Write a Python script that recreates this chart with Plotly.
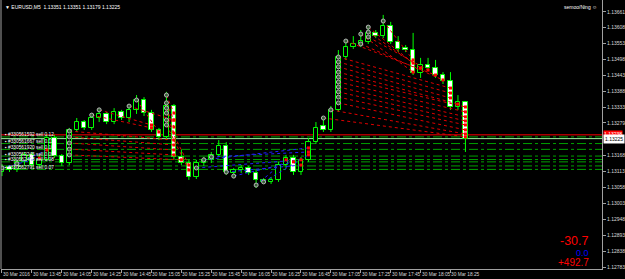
import plotly.graph_objects as go

# ---------------- data (EURUSD M5, 30 Mar 2016) ----------------
bar_index = list(range(63))
opens = [1.13110, 1.13127, 1.13117, 1.13145, 1.13169, 1.13134, 1.13152, 1.13227, 1.13165, 1.13141,
         1.13255, 1.13282, 1.13262, 1.13296, 1.13310, 1.13282, 1.13317, 1.13296, 1.13324, 1.13358,
         1.13313, 1.13255, 1.13231, 1.13337, 1.13162, 1.13141, 1.13093, 1.13141, 1.13152, 1.13169,
         1.13200, 1.13107, 1.13117, 1.13124, 1.13107, 1.13083, 1.13076, 1.13083, 1.13134, 1.13158,
         1.13110, 1.13152, 1.13213, 1.13268, 1.13255, 1.13324, 1.13506, 1.13540, 1.13551, 1.13558,
         1.13589, 1.13578, 1.13613, 1.13558, 1.13537, 1.13530, 1.13451, 1.13479, 1.13468, 1.13444,
         1.13423, 1.13334, 1.13351]
highs = [1.13138, 1.13134, 1.13152, 1.13179, 1.13179, 1.13169, 1.13238, 1.13238, 1.13172, 1.13262,
         1.13296, 1.13289, 1.13306, 1.13324, 1.13317, 1.13330, 1.13324, 1.13337, 1.13375, 1.13368,
         1.13324, 1.13262, 1.13386, 1.13344, 1.13186, 1.13152, 1.13152, 1.13162, 1.13179, 1.13220,
         1.13213, 1.13124, 1.13134, 1.13131, 1.13117, 1.13089, 1.13093, 1.13145, 1.13169, 1.13169,
         1.13162, 1.13227, 1.13282, 1.13296, 1.13337, 1.13530, 1.13565, 1.13578, 1.13599, 1.13613,
         1.13599, 1.13651, 1.13627, 1.13578, 1.13547, 1.13589, 1.13503, 1.13503, 1.13496, 1.13454,
         1.13454, 1.13375, 1.13351]
lows = [1.13096, 1.13110, 1.13110, 1.13134, 1.13127, 1.13127, 1.13145, 1.13158, 1.13131, 1.13134,
        1.13248, 1.13255, 1.13255, 1.13282, 1.13275, 1.13275, 1.13289, 1.13282, 1.13310, 1.13303,
        1.13248, 1.13220, 1.13220, 1.13152, 1.13134, 1.13083, 1.13086, 1.13131, 1.13141, 1.13162,
        1.13100, 1.13089, 1.13107, 1.13100, 1.13055, 1.13069, 1.13069, 1.13076, 1.13124, 1.13100,
        1.13100, 1.13145, 1.13207, 1.13248, 1.13248, 1.13317, 1.13496, 1.13534, 1.13540, 1.13551,
        1.13571, 1.13571, 1.13551, 1.13523, 1.13523, 1.13444, 1.13434, 1.13461, 1.13434, 1.13413,
        1.13324, 1.13324, 1.13179]
closes = [1.13127, 1.13117, 1.13145, 1.13169, 1.13134, 1.13152, 1.13227, 1.13165, 1.13141, 1.13255,
          1.13282, 1.13262, 1.13296, 1.13310, 1.13282, 1.13317, 1.13296, 1.13324, 1.13358, 1.13313,
          1.13255, 1.13231, 1.13337, 1.13162, 1.13141, 1.13093, 1.13141, 1.13152, 1.13169, 1.13200,
          1.13110, 1.13117, 1.13124, 1.13107, 1.13083, 1.13076, 1.13083, 1.13134, 1.13158, 1.13110,
          1.13152, 1.13213, 1.13262, 1.13255, 1.13324, 1.13506, 1.13540, 1.13551, 1.13561, 1.13589,
          1.13578, 1.13613, 1.13558, 1.13534, 1.13530, 1.13451, 1.13479, 1.13468, 1.13444, 1.13423,
          1.13334, 1.13351, 1.13225]

time_tick_bars = [0, 4, 8, 12, 16, 20, 24, 28, 32, 36, 40, 44, 48, 52, 56, 60]
time_tick_labels = ["30 Mar 2016", "30 Mar 13:45", "30 Mar 14:05", "30 Mar 14:25", "30 Mar 14:45",
                    "30 Mar 15:05", "30 Mar 15:25", "30 Mar 15:45", "30 Mar 16:05", "30 Mar 16:25",
                    "30 Mar 16:45", "30 Mar 17:05", "30 Mar 17:25", "30 Mar 17:45", "30 Mar 18:05",
                    "30 Mar 18:25"]
price_ticks = [1.13661, 1.13608, 1.13553, 1.13498, 1.13443, 1.13388, 1.13333, 1.13279,
               1.13168, 1.13113, 1.13058, 1.13003, 1.12948, 1.12893, 1.12838, 1.12783]

bid_price = 1.13225
ask_price = 1.13238

# closed sell trades (red dotted)
sell_open_bar = [51, 49, 49, 49, 48, 46, 48, 45, 45, 45, 45, 45, 45, 45, 45, 45, 45, 44, 43,
                 9, 9, 9, 9, 9, 18, 17, 22, 22, 22, 22, 22, 22, 13, 12]
sell_open_price = [1.13630, 1.13609, 1.13592, 1.13575, 1.13585, 1.13561, 1.13551, 1.13506, 1.13489,
                   1.13472, 1.13454, 1.13437, 1.13420, 1.13403, 1.13386, 1.13368, 1.13348, 1.13324,
                   1.13296,
                   1.13251, 1.13231, 1.13210, 1.13189, 1.13169, 1.13358, 1.13337, 1.13375, 1.13348,
                   1.13330, 1.13313, 1.13289, 1.13272, 1.13324, 1.13306]
sell_close_bar = [55, 55, 56, 57, 55, 58, 59, 60, 60, 60, 61, 62, 62, 62, 62, 62, 62, 62, 62,
                  23, 23, 23, 23, 24, 21, 23, 23, 23, 23, 23, 25, 25, 20, 20]
sell_close_price = [1.13496, 1.13485, 1.13468, 1.13461, 1.13454, 1.13444, 1.13427, 1.13399, 1.13382,
                    1.13365, 1.13344, 1.13334, 1.13317, 1.13300, 1.13286, 1.13272, 1.13255, 1.13241,
                    1.13231,
                    1.13220, 1.13203, 1.13186, 1.13169, 1.13152, 1.13248, 1.13289, 1.13313, 1.13289,
                    1.13265, 1.13244, 1.13134, 1.13117, 1.13272, 1.13262]

# closed buy trades (blue dotted)
buy_open_bar = [27, 28, 26, 30, 34, 31, 35, 0, 2]
buy_open_price = [1.13152, 1.13162, 1.13124, 1.13110, 1.13065, 1.13096, 1.13076, 1.13124, 1.13138]
buy_close_bar = [41, 41, 40, 40, 38, 39, 41, 5, 6]
buy_close_price = [1.13193, 1.13179, 1.13152, 1.13134, 1.13152, 1.13145, 1.13169, 1.13158, 1.13186]

# open orders (green dash-dot levels)
order_levels = [1.13231, 1.13208, 1.13188, 1.13165, 1.13153, 1.13145, 1.13131, 1.13119]
order_labels = ["#330561592 sell 0.12", "#330561667 sell 0.11", "#330561920 sell 0.10",
                "#330562245 sell 0.09", "", "#330562468 sell 0.08", "", "#330562791 sell 0.07"]

header_text = "\u25BC EURUSD,M5  1.13351 1.13351 1.13179 1.13225"
expert_text = "semoo/Ning \u263A"
pl_texts = ["-30.7", "0.0", "+492.7"]
pl_colors = ["#ff0000", "#0000ff", "#ff0000"]

# ---------------- figure ----------------
LIME = "#00ff00"
AXIS = "#a0a0a0"
TXT = "#d8d8d8"
FONT = "Liberation Sans, Arial, DejaVu Sans"

fig = go.Figure()

# candle bodies
body_base = [min(o, c) for o, c in zip(opens, closes)]
body_h = [max(abs(c - o), 0.00002) for o, c in zip(opens, closes)]
fills = ["#000000" if c >= o else "#ffffff" for o, c in zip(opens, closes)]
fig.add_trace(go.Bar(x=bar_index, base=body_base, y=body_h, width=0.6,
                     marker=dict(color=fills, line=dict(color=LIME, width=1)),
                     hoverinfo="skip", showlegend=False))

# wicks (outside body only)
wx, wy = [], []
for i, o, h, l, c in zip(bar_index, opens, highs, lows, closes):
    top, bot = max(o, c), min(o, c)
    wx += [i, i, None, i, i, None]
    wy += [h, top, None, bot, l, None]
fig.add_trace(go.Scatter(x=wx, y=wy, mode="lines", line=dict(color=LIME, width=1),
                         hoverinfo="skip", showlegend=False))


def seg(ob, op, cb, cp):
    xs, ys = [], []
    for a, b, c, d in zip(ob, op, cb, cp):
        xs += [a, c, None]
        ys += [b, d, None]
    return xs, ys


sx, sy = seg(sell_open_bar, sell_open_price, sell_close_bar, sell_close_price)
fig.add_trace(go.Scatter(x=sx, y=sy, mode="lines", line=dict(color="#e00000", width=1, dash="dot"),
                         hoverinfo="skip", showlegend=False))
bx, by = seg(buy_open_bar, buy_open_price, buy_close_bar, buy_close_price)
fig.add_trace(go.Scatter(x=bx, y=by, mode="lines", line=dict(color="#2020ff", width=1, dash="dot"),
                         hoverinfo="skip", showlegend=False))

# open markers
fig.add_trace(go.Scatter(x=sell_open_bar + buy_open_bar, y=sell_open_price + buy_open_price,
                         mode="markers",
                         marker=dict(symbol="circle", size=4, color="#3a603a",
                                     line=dict(color="#b8b8b8", width=1)),
                         hoverinfo="skip", showlegend=False))
# close markers
fig.add_trace(go.Scatter(x=sell_close_bar + buy_close_bar, y=sell_close_price + buy_close_price,
                         mode="markers",
                         marker=dict(symbol="square", size=3, color="#ff0000"),
                         hoverinfo="skip", showlegend=False))

shapes = []
for lv in order_levels:
    shapes.append(dict(type="line", xref="paper", x0=0, x1=1, yref="y", y0=lv, y1=lv,
                       line=dict(color="#00a000", width=1, dash="dashdot"), layer="below"))
shapes.append(dict(type="line", xref="paper", x0=0, x1=1, yref="y", y0=ask_price, y1=ask_price,
                   line=dict(color="#ff0000", width=1), layer="below"))
shapes.append(dict(type="line", xref="paper", x0=0, x1=1, yref="y", y0=bid_price, y1=bid_price,
                   line=dict(color="#a0f0a0", width=1), layer="below"))
shapes.append(dict(type="line", xref="paper", x0=0, x1=0, yref="paper", y0=0, y1=1,
                   line=dict(color=AXIS, width=1)))

ann = []
for b, t in zip(time_tick_bars, time_tick_labels):
    ann.append(dict(x=b, xref="x", y=0, yref="paper", text=t, showarrow=False,
                    xanchor="left", yanchor="top", xshift=-1, yshift=-1,
                    font=dict(family=FONT, size=4.8, color=TXT)))
for lv, t in zip(order_levels, order_labels):
    if t:
        ann.append(dict(x=0, xref="paper", y=lv, yref="y", text="\u25AA " + t, showarrow=False,
                        xanchor="left", yanchor="middle", xshift=2, yshift=2,
                        font=dict(family=FONT, size=4.8, color="#ffffff")))
ann.append(dict(x=1, xref="paper", y=ask_price, yref="y", text="1.13238", showarrow=False,
                xanchor="left", yanchor="middle", xshift=1, yshift=1, bgcolor="#ff0000",
                borderpad=0, font=dict(family=FONT, size=5, color="#ffffff")))
ann.append(dict(x=1, xref="paper", y=bid_price, yref="y", text="1.13225", showarrow=False,
                xanchor="left", yanchor="middle", xshift=1, bgcolor="#ffffff",
                borderpad=1, font=dict(family=FONT, size=5, color="#000000")))
ann.append(dict(x=0, xref="paper", y=1, yref="paper", text=header_text, showarrow=False,
                xanchor="left", yanchor="top", xshift=2, yshift=-2,
                font=dict(family=FONT, size=5, color="#ffffff")))
ann.append(dict(x=1, xref="paper", y=1, yref="paper", text=expert_text, showarrow=False,
                xanchor="right", yanchor="top", xshift=-3, yshift=-2,
                font=dict(family=FONT, size=5, color="#ffffff")))
pl_y = [0.104, 0.0595, 0.026]
pl_sizes = [12.5, 9, 10]
for t, col, yy, sz in zip(pl_texts, pl_colors, pl_y, pl_sizes):
    ann.append(dict(x=0.982, xref="paper", y=yy, yref="paper", text=t, showarrow=False,
                    xanchor="right", yanchor="middle",
                    font=dict(family=FONT, size=sz, color=col)))

fig.update_layout(
    width=625, height=279,
    margin=dict(l=1, r=21, t=0, b=10),
    paper_bgcolor="#000000", plot_bgcolor="#000000",
    showlegend=False, bargap=0,
    shapes=shapes, annotations=ann,
    xaxis=dict(range=[-0.133, 80.27], showgrid=False, zeroline=False,
               showline=True, linecolor=AXIS, linewidth=1,
               ticks="outside", ticklen=3, tickcolor=AXIS,
               tickvals=time_tick_bars, showticklabels=False, fixedrange=True),
    yaxis=dict(range=[1.127761, 1.137023], side="right", showgrid=False, zeroline=False,
               showline=True, linecolor=AXIS, linewidth=1,
               ticks="outside", ticklen=3, tickcolor=AXIS,
               tickvals=price_ticks, ticktext=["%.5f" % p for p in price_ticks],
               tickfont=dict(family=FONT, size=5, color=TXT), fixedrange=True),
)

fig.write_html("out.html")
